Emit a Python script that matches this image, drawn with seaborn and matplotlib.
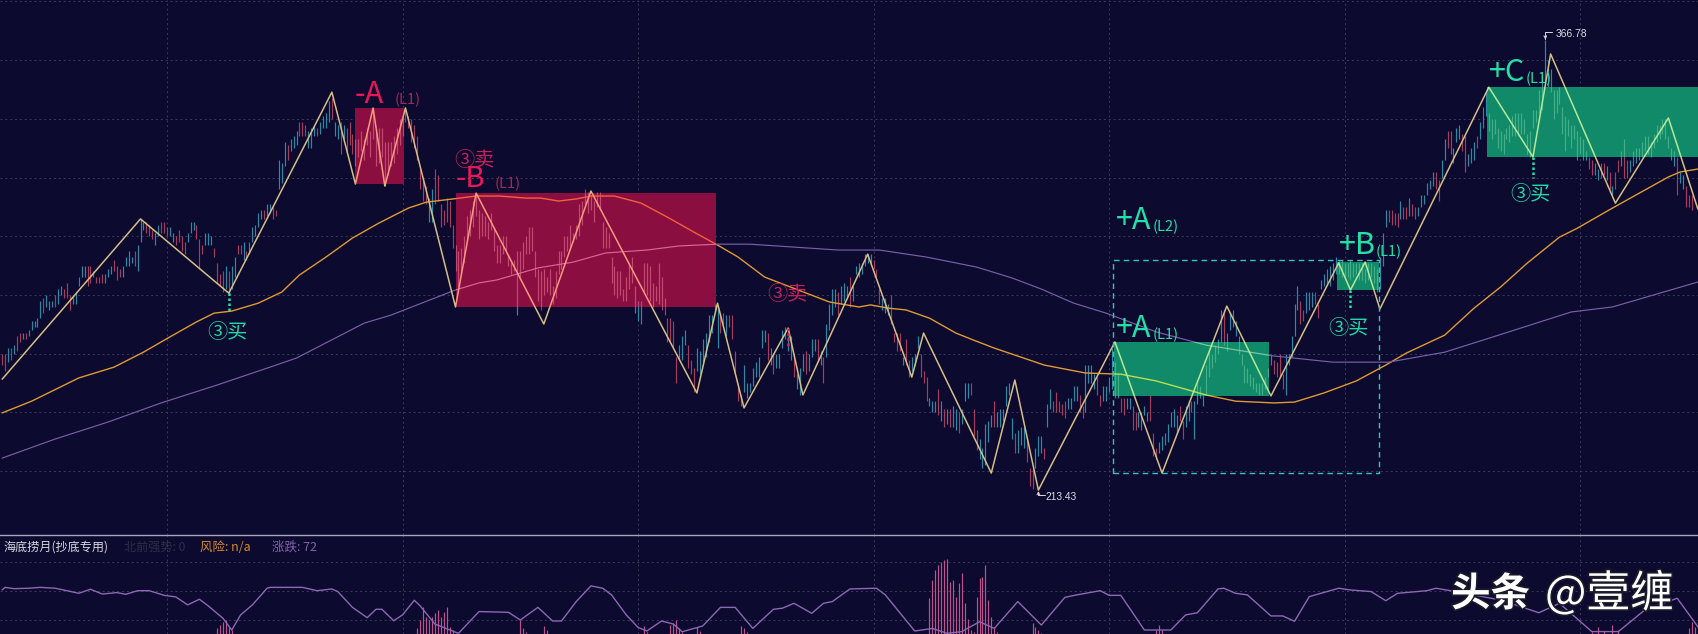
import numpy as np
import pandas as pd
import matplotlib
matplotlib.use("Agg")
import matplotlib.pyplot as plt
import matplotlib.patheffects as pe
from matplotlib.patches import Rectangle
import seaborn as sns

# K线 (high / low / direction)
bar_high = [
    260,260,262,262,263,266,267,267,267,268, 271,271,272,278,279,280,278,278,280,282,
    283,282,284,280,280,281,286,290,290,290, 290,288,286,286,287,287,289,290,292,290,
    289,290,293,295,293,295,297,306,305,305, 304,302,301,304,305,305,303,303,301,300,
    302,300,298,301,305,305,304,299,297,301, 301,300,296,291,287,288,290,288,290,293,
    297,297,298,295,298,303,304,308,309,309, 311,311,310,309,
    326,325,332,331,333,334,336,339,339,338, 336,337,338,337,339,341,342,346,347,339,
    338,339,338,337,339,335,333,333,336,333, 337,336,343,336,337,337,332,332,332,334,
    337,340,341,344,341,340,338,334,323,320, 317,313,316,323,321,311,309,313,312,304,
    297,295,296,300,307,309,312,314,309,308, 307,305,308,303,297,297,300,300,294,292,
    292,295,295,298,
    300,303,303,295,289,288,289,286,289,283, 288,295,295,300,300,304,301,304,311,312,
    316,315,314,312,315,315,305,303,301,293, 290,288,288,282,286,291,293,283,278,278,
    291,291,290,284,283,291,286,279,272,272, 271,259,263,266,268,263,258,255,262,261,
    265,267,273,273,277,276,274,274,273,273, 273,261,249,246,256,250,250,255,257,
    259,268,268,267,262,260,260,260,268,269, 266,266,260,253,255,260,261,260,265,265,
    265,261,259,270,277,282,282,281,283,284, 283,286,283,290,291,291,294,294,294,292,
    289,282,279,279,277,280,267,267,267,259, 265,258,259,260,266,260,254,252,245,244,
    244,248,244,241,241,241,242,241,240,241, 250,250,250,241,234,231,228,236,237,239,
    244,240,241,241,249,250,238,233,234,235, 235,231,221,221,228,232,
    232,228,243,248,244,247,244,243,244,245, 245,249,249,246,242,256,256,256,253,252,
    246,249,249,252,262,257,253,245,245,245, 245,242,240,240,240,242,240,246,233,228,
    230,232,233,236,240,241,239,242,237,242, 244,244,244,250,249,246,256,261,260,263,
    265,275,275,267,274,275,271,266,260,256, 255,253,252,250,250,250,252,255,260,258,
    257,260,253,260,260,266,277,283,278,275, 281,281,281,281,277,285,287,289,290,
    291,293,292,292,291,291,292,291,291,291, 291,289,291,291,290,289,293,301,
    309,309,309,308,308,312,310,310,313,311, 310,310,314,314,318,319,322,322,319,326,
    333,336,336,330,337,338,335,334,328,330, 332,334,339,344,349,342,340,340,337,336,
    335,337,338,341,342,342,342,340,335,336, 343,343,350,355,367,360,357,350,350,351,
    344,341,340,338,338,336,334,333,329,327, 326,325,323,325,325,324,322,317,322,326,
    329,333,326,326,329,330,330,332,334,334, 332,335,338,338,340,340,334,330,329,327,
    322,321,317,314,314,
]
bar_low = [
    256,254,257,258,260,261,264,265,265,266, 268,269,269,272,274,276,275,276,276,277,
    280,279,279,275,277,277,283,286,286,283, 284,286,284,284,284,284,286,287,288,285,
    286,286,290,290,291,290,288,298,302,301, 300,299,297,300,301,301,300,300,298,297,
    298,295,294,298,301,302,299,289,294,297, 297,297,293,284,283,281,282,280,282,286,
    294,294,292,292,294,298,300,303,306,306, 307,308,306,307,
    316,318,324,326,329,330,331,334,334,334, 330,330,334,334,335,337,337,339,340,334,
    333,328,333,329,331,328,324,327,329,326, 331,327,333,324,325,327,317,321,324,325,
    328,331,334,339,337,332,330,326,316,312, 311,305,305,311,312,303,304,305,303,296,
    288,283,287,291,299,300,303,307,299,300, 300,299,302,295,291,291,294,295,290,287,
    288,273,286,289,
    294,294,295,286,278,275,280,281,280,277, 279,287,289,293,295,296,298,299,300,304,
    311,308,309,305,310,309,296,296,296,284, 280,279,280,278,278,282,284,274,271,270,
    281,280,278,276,278,277,275,273,264,264, 262,250,258,258,263,255,253,247,254,253,
    257,259,264,267,275,262,267,269,266,269, 265,253,244,242,247,245,247,249,252,
    252,262,264,258,256,253,255,255,262,265, 261,258,252,248,246,254,253,254,259,261,
    257,256,250,259,268,273,276,273,277,278, 279,276,278,287,286,287,290,291,291,289,
    286,277,275,274,273,270,264,261,261,256, 256,252,254,256,262,252,250,244,242,240,
    240,239,237,235,236,235,235,234,233,236, 244,245,246,232,227,224,221,222,230,235,
    235,235,235,237,242,246,231,226,226,229, 228,223,215,214,221,225,
    226,224,235,241,240,240,240,239,238,241, 241,244,244,240,238,240,250,250,248,246,
    242,244,244,247,248,245,245,240,239,241, 241,234,234,235,234,239,237,237,225,224,
    226,227,229,230,235,235,233,237,231,235, 237,240,231,243,245,242,246,252,255,257,
    260,264,263,261,268,269,266,260,256,250, 250,249,248,247,246,246,248,252,256,253,
    252,252,248,246,256,259,266,275,270,271, 274,275,276,277,272,282,283,284,283,
    285,287,287,286,285,286,285,286,287,285, 285,284,285,286,284,281,282,290,
    303,305,304,304,303,306,306,306,307,307, 306,307,310,311,314,316,317,316,312,320,
    326,330,328,325,332,333,329,322,324,325, 326,330,333,337,341,336,333,335,330,329,
    328,333,332,334,334,334,335,335,328,327, 337,339,342,343,351,351,349,340,342,345,
    335,329,334,330,333,326,328,326,326,323, 321,321,319,320,321,319,316,314,316,322,
    324,320,320,322,324,325,326,327,329,328, 327,330,332,333,335,333,330,326,324,314,
    318,316,310,310,309,
]
# u = up bar, r = down bar, same order as the two lists above
bar_dir = (
    "rrururruru" "uuuuruuuru" "urrruuuuur" "rurrruuurr" "ruuuuruuur" "rruurrruur" "rrruuurrru"
    "uurrrruruu" "rruruuuuur" "uurr"
    "uuuruuurrr" "uuuruuuuru" "ururrrrrrr" + "r" * 21 + "uu" + "r" * 28 + "urr"
    + "r" * 37 + "uuu" + "r" * 12 + "uuu" "rrr" + "u" * 8 + "rr" "u" + "r" * 5 + "u" * 5
    + "uuururuuuu" "uuruuuruuu" "ruruuuuruu" "uruuuuuuur" "rruuurrrru" "rruuurrruu"
    "urururuuru" "uurrruuuuu" "ruuuuuuruu" "urrruu"
    "uruurrrrru" "uuurruuuur" "ruuuuuurru" "urruuuurrr" "uuuuuuurru" "uruuuuuuuu"
    "uuruuuuuuu" "uuuuuuuuur" "rrruuuuurr" "uuurruuuu"
    "uuruuruuru" "uruurruu"
    "urrrrurrur" "ruuuuuurru" "urruuurruu" "ur" + "u" * 37 + "rruurrurur" "rurr" + "u" * 16 + "ruurrr"
)

# 笔 pivots
pivot_x = [0,47,77,112,120,126,130,137,154,161,184,200,236,243,252,267,272,294,309,313,336,344,352,
           378,394,416,431,454,458,463,468,505,520,526,548,566,576]
pivot_y = [251.3,305.9,280.6,349.1,317.8,343.7,317.1,343.7,275.9,314.7,270.1,315.4,246.6,277.2,241.5,
           268.7,245.9,293.9,252.0,267.0,219.3,251.0,213.5,264.0,219.3,276.2,245.6,290.9,281.7,291.2,
           275.2,350.8,327.0,362.1,311.3,340.3,309.3]

# moving averages
ma_orange_x = [0,10,26,38,48,57,66,72,78,87,95,101,110,119,128,138,144,153,161,169,178,183,189,195,200,208,
               217,226,235,243,250,259,267,281,291,295,301,307,315,324,330,337,354,368,380,392,409,419,432,
               439,449,460,470,477,490,500,509,518,529,535,547,566,570,576]
ma_orange_y = [239.8,243.8,251.7,255.4,260.5,265.7,270.8,273.8,274.5,277.2,281,286.8,292.9,299.4,304.5,309.6,
               311.6,312.7,313.7,313.7,313,313,312,312.7,313.7,313.7,311.3,306.5,301.4,297,292.9,286.1,283,
               277.6,275.9,276.6,275.5,274.9,272.1,267,264.6,261.9,256.1,253.4,253,250.7,245.9,243.8,243.2,
               243.5,246.6,250.7,256.1,260.2,266.3,275.5,282.7,290.8,299.7,302.7,309.6,320.2,321.9,322.9]
ma_purple_x = [0,18,36,54,73,91,100,123,132,154,162,168,182,194,205,219,230,243,254,284,298,314,331,343,353,
               364,375,392,409,432,452,471,490,503,533,547,561,576]
ma_purple_y = [224.4,230.9,236.7,243.2,249.3,255.4,258.5,270.4,273.1,281.7,284.1,285.1,289.2,291.2,294.3,295.3,
               296.7,297.3,297.3,295.3,295.3,292.9,289.5,285.8,282,277.2,273.8,267.4,262.9,259.2,257.1,257.1,
               260.5,264.6,274.2,275.9,280,284.4]

# 中枢 boxes: start, end, low, high
box_x0 = [120, 154, 377.7, 453.4, 504.4]
box_x1 = [136.5, 242.5, 430.3, 467.7, 577]
box_lo = [317.8, 275.9, 245.6, 281.7, 327.0]
box_hi = [343.7, 314.7, 264.0, 291.2, 350.8]
box_kind = ["sell", "sell", "buy", "buy", "buy"]

# dotted signal stems
stem_x = [77, 267, 458, 520]
stem_top = [280.6, 268.7, 281.7, 327.0]
stem_bot = [273.7, 262.2, 275.0, 320.0]
stem_kind = ["buy", "sell", "buy", "buy"]

# 海底捞月 indicator
osc_x = [0,1,4,9,13,18,22,26,30,34,39,42,46,50,55,59,63,67,70,75,78,81,85,90,91,102,107,112,114,119,124,127,129,
         133,136,140,142,147,155,162,172,176,182,187,190,195,200,204,207,212,216,219,224,228,231,238,244,249,255,
         262,265,269,275,279,282,288,297,300,310,316,321,326,332,337,345,353,361,365,373,376,380,388,397,402,406,
         413,415,419,423,431,435,439,444,454,458,465,470,474,484,487,492,509,522,529,540,549,558,569,576]
osc_y = [20.7,22.5,21.6,21.9,22.5,21.9,20.2,18.4,21.2,17.9,18.9,17.7,20.2,20.2,17,15.9,10.4,14.3,9.7,1.2,-6.9,3.5,
         10.4,21.9,22.5,22.5,20.2,21.4,19.6,8.7,1.6,7.4,7.4,-0.5,3.5,13.6,9.7,-2.8,-9.2,5.8,5.3,0,8.7,-0.7,-0.7,
         12.7,23.5,21.9,17.3,3.5,-5.1,-7.6,-0.7,-2.8,-8.1,-4.1,8.7,8.7,-5.8,7.4,8.1,11.5,4.6,11.5,12.7,21.4,21.9,
         17.3,-7.6,-5.8,-9.2,-8,-1.2,-5.8,12.7,-3.5,15.6,17.3,20.2,17,17,-6.9,-6.9,3.5,5,21.4,21.9,18.4,17.3,2.8,
         2.8,-0.9,16.1,21.9,20.7,19.6,13.3,18.4,20.2,21.9,20.2,13.8,5,11.5,-8,-8,6.9,15,-4.6]
hist_x = [73,74,75,76,77,78,141,142,143,144,145,146,147,148,149,150,151,152,153,176,177,178,184,185,218,219,227,228,
          229,230,231,236,237,251,252,253,315,316,317,318,319,320,321,322,323,324,325,326,327,328,329,330,331,332,
          333,334,335,336,337,338,350,351,352,353,392,393,394,540,542,544,547,549,573,574,575]
hist_y = [-5.8,-3.5,-1.2,0,-4.6,-6.9,-5.8,0,9.2,2.3,0,2.3,4.6,6.9,2.3,5.8,8.7,-4.6,-6.9,0,-5.8,-8,-4.1,-6.9,-4.1,-8,
          -3.5,-2.3,0,-5.8,-8,-4.6,-7.4,-4.1,-5.8,-8,15,27.6,34.5,37.9,40.3,41.4,41.9,26,27.6,16,25.3,32.2,11.5,1,
          -7,-8,15.6,28.8,29.9,37.9,13.8,2.3,-4.6,-8,-1.8,-4.6,-6.9,-8.7,-6.9,-3.5,-6.9,-8,-5,-7.4,-3.5,-6.9,-5.8,
          -1.2,-4.6]

BG = "#0c0a2e"
GRID = "#3d3b58"
COL_UP = "#2d8aa6"
COL_DOWN = "#a63d5c"
SELL = "#e8175a"
BUY = "#22e0a8"
W, H = 1699, 634

sns.set_theme(style="dark", rc={"axes.facecolor": BG, "figure.facecolor": BG})
plt.rcParams["font.family"] = ["Noto Sans CJK SC", "DejaVu Sans"]

fig = plt.figure(figsize=(W / 100, H / 100), dpi=100)
ax = fig.add_axes([0, 99 / H, 1, 535 / H])
sub = fig.add_axes([0, 0, 1, 99 / H])

grid_x = [56, 136, 216, 296, 376, 456, 536]
for a in (ax, sub):
    a.set_xlim(-0.73, 576.4)
    a.set_xticks(grid_x)
    a.tick_params(length=0, labelleft=False, labelbottom=False)
    a.grid(True, color=GRID, linewidth=0.7, linestyle=(0, (2, 3)))
    a.set_axisbelow(True)
    for s in a.spines.values():
        s.set_visible(False)
ax.set_ylim(198.2, 380.5)
ax.set_yticks(range(220, 381, 20))
sub.set_ylim(-9.66, 58.6)
sub.set_yticks([0, 20, 40])
sub.spines["top"].set_visible(True)
sub.spines["top"].set_color("#a8a4c0")
sub.spines["top"].set_linewidth(1.0)

bars = pd.DataFrame({"high": bar_high, "low": bar_low, "dir": list(bar_dir)})
bars["x"] = bars.index


def draw_line(xs, ys, color, lw, z):
    sns.lineplot(x=xs, y=ys, color=color, linewidth=lw, ax=ax, zorder=z,
                 estimator=None, sort=False, legend=False)
    return ax.lines[-1]


def draw_ma(orange, purple, z):
    return [draw_line(ma_orange_x, ma_orange_y, orange, 1.0, z),
            draw_line(ma_purple_x, ma_purple_y, purple, 0.85, z)]


def draw_bars(up, down, z):
    sets = []
    for d, c in (("u", up), ("r", down)):
        part = bars[bars["dir"] == d]
        sets.append(ax.vlines(part["x"], part["low"], part["high"], color=c, linewidth=0.85, zorder=z))
    return sets


# plain layer
draw_bars(COL_UP, COL_DOWN, 2)
draw_ma("#e09a35", "#7a5ea8", 2.5)
draw_line(pivot_x, pivot_y, "#d6be86", 1.1, 2.6)

# boxes, and a recoloured layer clipped to each box
for x0, x1, lo, hi, kind in zip(box_x0, box_x1, box_lo, box_hi, box_kind):
    face = "#8a0f40" if kind == "sell" else "#108a68"
    ax.add_patch(Rectangle((x0, lo), x1 - x0, hi - lo, facecolor=face, edgecolor="none", zorder=3))
    if kind == "sell":
        layer = draw_bars("#b0507a", "#c24a72", 3.2) + draw_ma("#f2603c", "#d8649a", 3.4) \
            + [draw_line(pivot_x, pivot_y, "#f59a80", 1.1, 3.6)]
    else:
        layer = draw_bars("#45ad88", "#45ad88", 3.2) + draw_ma("#b8e050", "#7cc8a8", 3.4) \
            + [draw_line(pivot_x, pivot_y, "#b5e89a", 1.1, 3.6)]
    clip = Rectangle((x0, lo), x1 - x0, hi - lo, transform=ax.transData)
    for art in layer:
        art.set_clip_path(clip)

# 二级中枢 dashed frame
ax.add_patch(Rectangle((377.4, 219.3), 90.3, 72.6, fill=False, edgecolor="#35c4bc", linewidth=1.0,
                       linestyle=(0, (4, 3)), zorder=6))

for x, top, bot, kind in zip(stem_x, stem_top, stem_bot, stem_kind):
    sns.lineplot(x=[x, x], y=[top, bot], color=BUY if kind == "buy" else SELL, linewidth=1.8,
                 linestyle=(0, (1, 1)), ax=ax, zorder=6, estimator=None, sort=False, legend=False)

# indicator panel
sub.vlines(hist_x, -9.66, hist_y, color="#c0508e", linewidth=0.85, zorder=2)
sns.lineplot(x=osc_x, y=osc_y, color="#8d68b5", linewidth=1.0, ax=sub, zorder=3,
             estimator=None, sort=False, legend=False)

# extreme price tags
ax.annotate("", xy=(352, 213.2), xytext=(354.2, 212.0), zorder=7,
            arrowprops=dict(arrowstyle="->", color="#d8d8e0", lw=0.7, shrinkA=0, shrinkB=0,
                            connectionstyle="angle,angleA=0,angleB=90", mutation_scale=5))
ax.annotate("", xy=(524.2, 367.0), xytext=(526.5, 369.6), zorder=7,
            arrowprops=dict(arrowstyle="->", color="#d8d8e0", lw=0.7, shrinkA=0, shrinkB=0,
                            connectionstyle="angle,angleA=0,angleB=90", mutation_scale=5))


def lab(px, py, s, color, size, **kw):
    return fig.text(px / W, 1 - py / H, s, color=color, fontsize=size, va="baseline", ha="left", zorder=10, **kw)


lab(1046, 500, "213.43", "#dcdce4", 7.4, family="Liberation Sans")
lab(1556, 37, "366.78", "#dcdce4", 7.4, family="Liberation Sans")

lab(355, 103, "-A", SELL, 22)
lab(395, 104, "(L1)", "#a02a58", 10.5)
lab(456, 187, "-B", SELL, 21)
lab(495, 188, "(L1)", "#a02a58", 10.5)
lab(454, 166, "③卖", "#c8205a", 14.5)
lab(767, 300, "③卖", "#c8205a", 14.5)

lab(1116, 229, "+A", BUY, 22)
lab(1153, 231, "(L2)", BUY, 10.5)
lab(1116, 337, "+A", BUY, 22)
lab(1153, 339, "(L1)", BUY, 10.5)
lab(1339, 254, "+B", BUY, 22)
lab(1376, 256, "(L1)", BUY, 10.5)
lab(1489, 81, "+C", BUY, 22)
lab(1526, 83, "(L1)", BUY, 10.5)
lab(207, 338, "③买", "#22d8a8", 14.5)
lab(1328, 334, "③买", "#22d8a8", 14.5)
lab(1510, 200, "③买", "#22d8a8", 14.5)

lab(3, 551, "海底捞月(抄底专用)", "#d8d8e0", 8.7)
lab(124, 551, "北前强势: 0", "#302e48", 8.7)
lab(200, 551, "风险: n/a", "#d98a2b", 9)
lab(272, 551, "涨跌: 72", "#8560ad", 9)

halo = [pe.withStroke(linewidth=2.5, foreground="#1a1a2a")]
lab(1451, 606, "头条", "white", 28.5, fontweight="bold", path_effects=halo)
lab(1545, 607, "@壹缠", "white", 31.5, path_effects=halo)

fig.savefig("out.png", dpi=100, facecolor=BG)
print(len(bar_high), len(bar_low), len(bar_dir))
